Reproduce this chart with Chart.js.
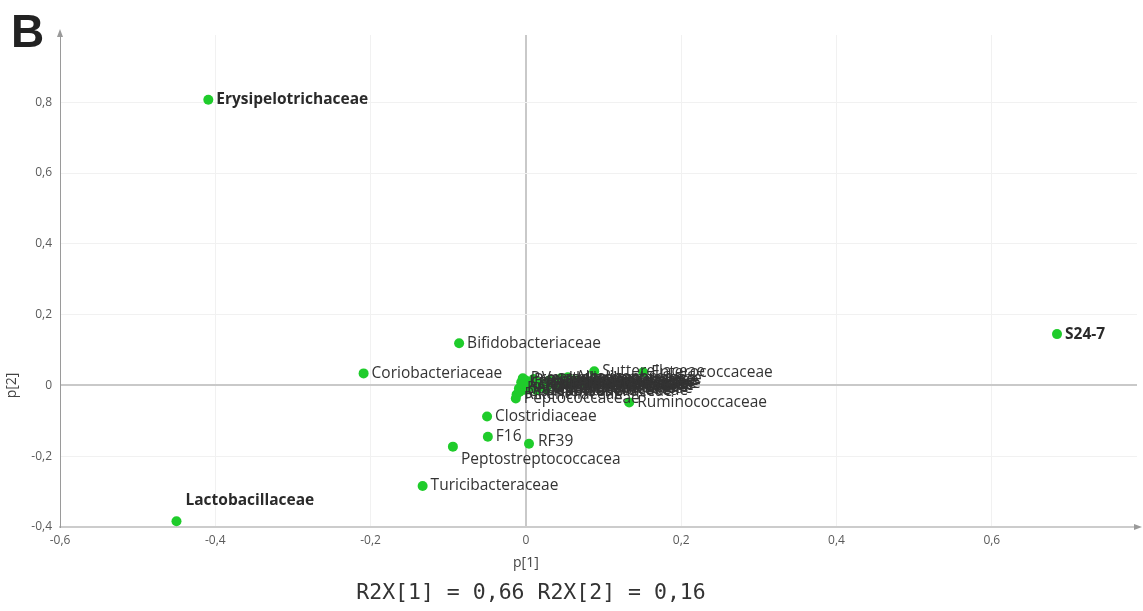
<!DOCTYPE html>
<html>
<head>
<meta charset="utf-8">
<script src="https://cdn.jsdelivr.net/npm/chart.js@4/dist/chart.umd.min.js"></script>
<style>
  html, body { margin: 0; padding: 0; background: #ffffff; }
  #wrap { width: 1143px; height: 611px; position: relative; }
</style>
</head>
<body>
<div id="wrap"><canvas id="c" width="1143" height="611"></canvas></div>
<script>
// ---- data ----
const names = [
  "Erysipelotrichaceae", "Lactobacillaceae", "S24-7",
  "Bifidobacteriaceae", "Coriobacteriaceae", "Clostridiaceae",
  "F16", "RF39", "Peptostreptococcacea", "Turicibacteraceae",
  "Ruminococcaceae", "Sutterellaceae", "Enterococcaceae",
  "Lachnospiraceae", "Bacteroidaceae", "Prevotellaceae", "Rikenellaceae",
  "Peptococcaceae", "Porphyromonadaceae", "Desulfovibrionaceae",
  "Enterobacteriaceae", "Streptococcaceae", "Helicobacteraceae",
  "Alcaligenaceae", "Micrococcaceae", "Veillonellaceae",
  "Mogibacteriaceae", "Odoribacteraceae", "Paraprevotellaceae",
  "Verrucomicrobiaceae", "Deferribacteraceae", "Staphylococcaceae",
  "Christensenellaceae", "Anaeroplasmataceae", "Dehalobacteriaceae",
  "Barnesiellaceae", "Corynebacteriaceae", "Eubacteriaceae"
];
const p1 = [
  -0.409, -0.450, 0.684,
  -0.086, -0.209, -0.050,
  -0.049, 0.004, -0.094, -0.133,
  0.133, 0.088, 0.151,
  -0.006, -0.009, -0.004, -0.012,
  -0.013, 0.000, 0.006,
  0.017, 0.030, 0.045,
  0.054, 0.065, 0.077,
  0.022, 0.040, -0.002,
  0.010, 0.026, 0.035,
  -0.008, 0.003, 0.014,
  0.048, -0.004, 0.058
];
const p2 = [
  0.807, -0.384, 0.145,
  0.119, 0.034, -0.088,
  -0.145, -0.165, -0.173, -0.284,
  -0.048, 0.040, 0.037,
  0.009, -0.009, 0.020, -0.026,
  -0.037, 0.014, 0.003,
  0.009, 0.014, 0.020,
  0.023, 0.014, 0.006,
  -0.004, 0.000, -0.012,
  0.018, -0.010, 0.005,
  -0.018, -0.006, -0.014,
  0.010, 0.004, 0.002
];
const boldNames = ["Erysipelotrichaceae", "Lactobacillaceae", "S24-7"];
const xTickStep = 0.2;
const yTickStep = 0.2;
const xTitle = "p[1]";
const yTitle = "p[2]";
const footText = "R2X[1] = 0,66 R2X[2] = 0,16";
const panelLetter = "B";

// ---- label placement (style, not data) ----
const labelOffsets = {
  "Lactobacillaceae": [9, -21],
  "Peptostreptococcacea": [8, 13],
  "RF39": [9, -2]
};

const points = p1.map((x, i) => ({ x: x, y: p2[i] }));

function fmt(v) {
  const r = Math.round(v * 10) / 10;
  return (r === 0 ? "0" : r.toString()).replace(".", ",");
}
function keepSteps(step) {
  return function (scale) {
    scale.ticks = scale.ticks.filter(t => Math.abs(t.value / step - Math.round(t.value / step)) < 1e-6);
  };
}

const decorPlugin = {
  id: 'decor',
  afterDatasetsDraw(chart) {
    const ctx = chart.ctx;
    const meta = chart.getDatasetMeta(0);
    ctx.save();
    ctx.textAlign = 'left';
    ctx.textBaseline = 'middle';
    meta.data.forEach((pt, i) => {
      const name = names[i];
      const bold = boldNames.includes(name);
      const off = labelOffsets[name] || [8, 0];
      ctx.font = (bold ? 'bold 15.5px' : '15.5px') + ' "Open Sans", sans-serif';
      ctx.fillStyle = bold ? '#2a2a2a' : '#333333';
      ctx.fillText(name, pt.x + off[0], pt.y + off[1]);
    });
    ctx.restore();
  },
  afterDraw(chart) {
    const ctx = chart.ctx;
    const a = chart.chartArea;
    ctx.save();
    // arrows
    ctx.fillStyle = '#9a9a9a';
    ctx.beginPath();
    ctx.moveTo(a.left, a.top - 6);
    ctx.lineTo(a.left - 3, a.top + 2);
    ctx.lineTo(a.left + 3, a.top + 2);
    ctx.closePath();
    ctx.fill();
    ctx.beginPath();
    ctx.moveTo(a.right + 5, a.bottom);
    ctx.lineTo(a.right - 3, a.bottom - 3);
    ctx.lineTo(a.right - 3, a.bottom + 3);
    ctx.closePath();
    ctx.fill();
    // panel letter
    ctx.fillStyle = '#222';
    ctx.font = 'bold 46px "Liberation Sans", Arial, sans-serif';
    ctx.textAlign = 'left';
    ctx.textBaseline = 'alphabetic';
    ctx.fillText(panelLetter, 11, 47);
    // axis titles
    const xs = chart.scales.x;
    ctx.fillStyle = '#444';
    ctx.font = '14px "Open Sans", sans-serif';
    ctx.textAlign = 'center';
    ctx.textBaseline = 'middle';
    ctx.fillText(xTitle, xs.getPixelForValue(0), 563);
    ctx.save();
    ctx.translate(12, chart.scales.y.getPixelForValue(0));
    ctx.rotate(-Math.PI / 2);
    ctx.fillText(yTitle, 0, 0);
    ctx.restore();
    // footer
    ctx.fillStyle = '#333';
    ctx.font = '21.5px "DejaVu Sans Mono", "Liberation Mono", monospace';
    ctx.fillText(footText, 531, 593);
    ctx.restore();
  }
};

new Chart(document.getElementById('c'), {
  type: 'scatter',
  data: {
    datasets: [{
      data: points,
      backgroundColor: '#1fcc2b',
      borderColor: '#1fcc2b',
      pointRadius: 5,
      pointHoverRadius: 5,
      borderWidth: 0
    }]
  },
  options: {
    responsive: false,
    animation: false,
    events: [],
    layout: { padding: { top: 35, right: 6, left: 0, bottom: 0 } },
    plugins: { legend: { display: false }, tooltip: { enabled: false } },
    scales: {
      x: {
        type: 'linear',
        min: -0.6,
        max: 0.787,
        afterBuildTicks: keepSteps(xTickStep),
        afterFit(scale) { scale.height = 84; },
        ticks: {
          stepSize: xTickStep,
          callback: v => fmt(v),
          color: '#5a5a5a',
          font: { size: 12, family: '"Open Sans", sans-serif' },
          padding: 6,
          maxRotation: 0
        },
        grid: {
          color: c => (c.tick && c.tick.value === 0) ? '#c9c9c9' : '#f1f1f1',
          lineWidth: c => (c.tick && c.tick.value === 0) ? 2 : 1,
          drawTicks: false
        },
        border: { color: '#cccccc', width: 2 }
      },
      y: {
        type: 'linear',
        min: -0.4,
        max: 0.99,
        afterBuildTicks: keepSteps(yTickStep),
        afterFit(scale) { scale.width = 60; },
        ticks: {
          stepSize: yTickStep,
          callback: v => fmt(v),
          color: '#5a5a5a',
          font: { size: 12, family: '"Open Sans", sans-serif' },
          padding: 8
        },
        grid: {
          color: c => (c.tick && c.tick.value === 0) ? '#c9c9c9' : '#f1f1f1',
          lineWidth: c => (c.tick && c.tick.value === 0) ? 2 : 1,
          drawTicks: false
        },
        border: { color: '#9a9a9a', width: 1 }
      }
    }
  },
  plugins: [decorPlugin]
});
</script>
</body>
</html>
